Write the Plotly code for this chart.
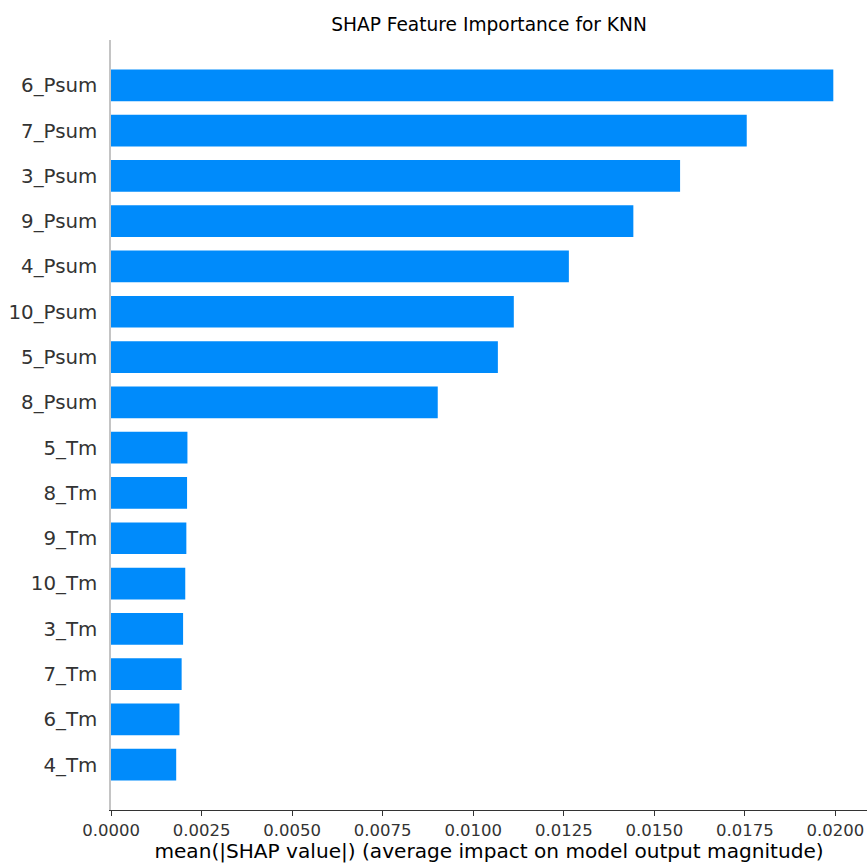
import plotly.graph_objects as go

features = ["6_Psum", "7_Psum", "3_Psum", "9_Psum", "4_Psum", "10_Psum", "5_Psum", "8_Psum",
            "5_Tm", "8_Tm", "9_Tm", "10_Tm", "3_Tm", "7_Tm", "6_Tm", "4_Tm"]
values = [0.01994, 0.01755, 0.01571, 0.01442, 0.01264, 0.01112, 0.01068, 0.00902,
          0.00211, 0.00210, 0.00208, 0.00205, 0.00199, 0.00195, 0.00189, 0.00180]
xticks = [0.0, 0.0025, 0.005, 0.0075, 0.01, 0.0125, 0.015, 0.0175, 0.02]
xtick_text = ["0.0000", "0.0025", "0.0050", "0.0075", "0.0100", "0.0125", "0.0150", "0.0175", "0.0200"]

title = "SHAP Feature Importance for KNN"
xlabel = "mean(|SHAP value|) (average impact on model output magnitude)"

order = list(reversed(features))

fig = go.Figure(go.Bar(
    x=values, y=features, orientation="h",
    marker=dict(color="#008bfb", line=dict(width=0)),
    width=0.7,
))

W, H = 867, 863
fig.update_layout(
    width=W, height=H,
    margin=dict(l=111, r=0, t=40, b=53),
    paper_bgcolor="white", plot_bgcolor="white",
    font=dict(family="DejaVu Sans", color="#333333"),
    showlegend=False,
    title=dict(text=title, x=(111 + 867) / 2 / W, xanchor="center", xref="container",
               y=1 - 24 / H, yanchor="middle", yref="container",
               font=dict(size=18.6, color="#000000")),
)
fig.update_xaxes(
    range=[0, 0.02087], tickvals=xticks, ticktext=xtick_text,
    showline=True, linecolor="#333333", linewidth=1,
    ticks="outside", ticklen=5, tickcolor="#333333",
    showgrid=False, zeroline=False,
    tickfont=dict(size=16.5, color="#333333"),
    title=dict(text=xlabel, font=dict(size=20.1, color="#000000"), standoff=5),
)
fig.update_yaxes(
    categoryorder="array", categoryarray=order,
    range=[-1, 16],
    showline=True, linecolor="#c4c4c4", linewidth=1.5,
    ticks="", showgrid=False, zeroline=False,
    tickfont=dict(size=19.8, color="#333333"),
    ticklabelstandoff=8,
)

fig.write_html("out.html")
